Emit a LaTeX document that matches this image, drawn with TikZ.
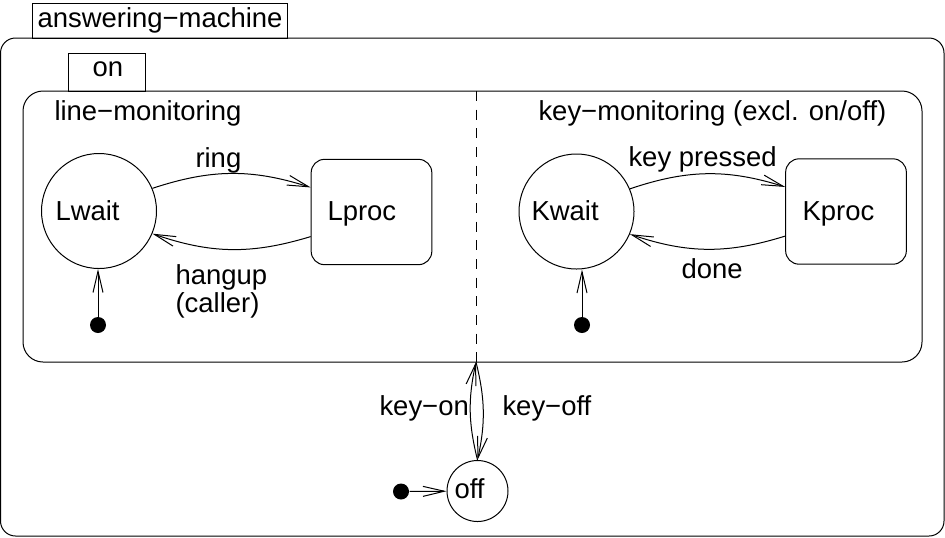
\documentclass[tikz,border=0pt]{standalone}
\usepackage{fontspec}
\setmainfont{Liberation Sans}
\usetikzlibrary{arrows.meta}

\tikzset{every picture/.style={line width=0.75pt}}
\tikzset{
  waitstate/.style={draw, circle, minimum size=86.25pt, inner sep=0pt},
  procstate/.style={draw, rounded corners=10pt, minimum width=90.5pt, minimum height=79pt, inner sep=0pt},
  offstate/.style={draw, circle, minimum size=45.75pt, inner sep=0pt},
  initdot/.style={fill=black, circle, minimum size=12pt, inner sep=0pt},
  txt/.style={anchor=base west, inner sep=0pt},
  trans/.style={-{Straight Barb[length=16pt,width=7.5pt]}},
}

\begin{document}
\begin{tikzpicture}[x=0.75pt,y=0.75pt,yscale=-1,xscale=1,font=\fontsize{20.6}{24}\selectfont]
\useasboundingbox (0,0) rectangle (945,537);

%Shape: Rectangle [id:answering-machine tab]
\draw (32,3) rectangle (287,38);
%Shape: Rounded Rect [id:answering-machine]
\draw [rounded corners=11.25pt] (0.5,38) rectangle (944,536);
%Shape: Rectangle [id:on tab]
\draw (68,53) rectangle (145,91);
%Shape: Rounded Rect [id:on]
\draw [rounded corners=15pt] (23,91) rectangle (922,362);
%Straight Lines [id:region separator]
\coordinate (septop) at (476,91);
\coordinate (sepbot) at (476,362);
\draw [dash pattern={on 7.5pt off 6.5pt}] (septop) -- (sepbot);

%Shape: Circle [id:Lwait]
\node [waitstate] (lwait) at (99,211) {};
%Shape: Rounded Rect [id:Lproc]
\node [procstate] (lproc) at (371.5,212) {};
%Shape: Circle [id:Kwait]
\node [waitstate] (kwait) at (576.5,211.5) {};
%Shape: Rounded Rect [id:Kproc]
\node [procstate] (kproc) at (846,211.5) {};
%Shape: Circle [id:off]
\node [offstate] (off) at (477.5,491) {};
%Shape: Circle [id:initial dots]
\node [initdot] (linit) at (98,325) {};
\node [initdot] (kinit) at (582,325) {};
\node [initdot] (offinit) at (401,491.5) {};

%Curve Lines [id:transitions]
\draw [trans] (lwait.23) to [bend right=18] (lproc.158);
\draw [trans] (lproc.-158) to [bend right=18] (lwait.-23);
\draw [trans] (kwait.23) to [bend right=18] (kproc.158);
\draw [trans] (kproc.-158) to [bend right=18] (kwait.-23);
\draw [trans] (off.north) to [bend right=13] (sepbot);
\draw [trans] (sepbot) to [bend right=13] (off.north);
%Straight Lines [id:initial transitions]
\draw [trans] (linit) -- (linit |- lwait.south);
\draw [trans] (kinit) -- (kinit |- kwait.south);
\draw [trans] (offinit) -- (off);

% Text Node
\node [txt] (amtxt) at (37,27) {answering−machine};
\node [txt] (ontxt) at (92,76) {on};
\node [txt] (linetxt) at (54,120) {line−monitoring};
\node [txt] (keytxt) at (538,120) {key−monitoring (excl. on/off)};
\node [txt] (lwaittxt) at (55,220.5) {Lwait};
\node [txt] (lproctxt) at (327,220) {Lproc};
\node [txt] (kwaittxt) at (531,220) {Kwait};
\node [txt] (kproctxt) at (802,220) {Kproc};
\node [txt] (offtxt) at (454,498) {off};
\node [txt] (ringtxt) at (195,167) {ring};
\node [txt] (hanguptxt) at (175,284) {hangup};
\node [txt] (callertxt) at (175,312) {(caller)};
\node [txt] (presstxt) at (628,166) {key pressed};
\node [txt] (donetxt) at (681,278) {done};
\node [txt] (keyontxt) at (379,415) {key−on};
\node [txt] (keyofftxt) at (502,415) {key−off};

\end{tikzpicture}
\end{document}
